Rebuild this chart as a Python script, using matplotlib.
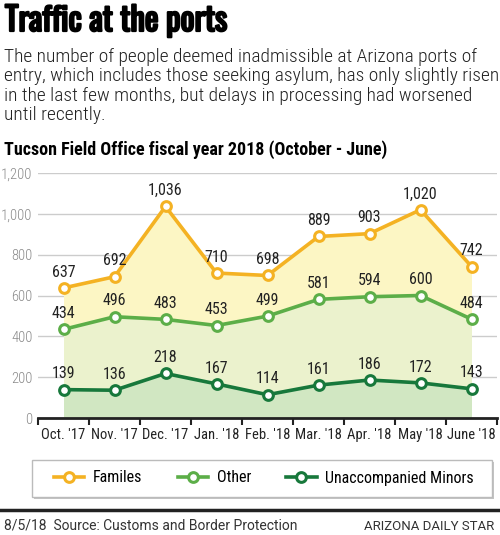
import matplotlib
matplotlib.use("Agg")
import matplotlib.pyplot as plt
import matplotlib.patheffects as pe
from matplotlib.lines import Line2D
from matplotlib.patches import Rectangle

# Data
months = ["Oct. '17", "Nov. '17", "Dec. '17", "Jan. '18", "Feb. '18",
          "Mar. '18", "Apr. '18", "May '18", "June '18"]
families = [637, 692, 1036, 710, 698, 889, 903, 1020, 742]
other = [434, 496, 483, 453, 499, 581, 594, 600, 484]
minors = [139, 136, 218, 167, 114, 161, 186, 172, 143]
series_names = ["Familes", "Other", "Unaccompanied Minors"]
y_ticks = [0, 200, 400, 600, 800, 1000, 1200]

line_colors = ["#f4b223", "#5cae48", "#17783b"]
fill_colors = ["#fcf6c4", "#ebf2cd", "#d1e7c2"]

narrow = ["Roboto Condensed", "DejaVu Sans"]
title_font = ["Oswald", "Fira Sans Extra Condensed", "DejaVu Sans"]
W, H = 500, 535

fig = plt.figure(figsize=(W / 100, H / 100), dpi=100)


def fx(px):
    return px / W


def fy(py):
    return 1 - py / H


# Header text (Oswald only ships one weight here, so thicken it with a stroke)
fig.text(fx(5), fy(31), "Traffic at the ports", family=title_font, fontweight="bold",
         fontsize=23.5, va="baseline", ha="left", color="black",
         path_effects=[pe.withStroke(linewidth=1.6, foreground="black")])
intro = ("The number of people deemed inadmissible at Arizona ports of\n"
         "entry, which includes those seeking asylum, has only slightly risen\n"
         "in the last few months, but delays in processing had worsened\n"
         "until recently.")
fig.text(fx(4), fy(48), intro, family=narrow, fontweight="light", fontsize=14,
         va="top", ha="left", linespacing=1.1, color="#222222")
fig.text(fx(4), fy(155), "Tucson Field Office fiscal year 2018 (October - June)",
         family=narrow, fontweight="bold", fontsize=13, va="baseline", ha="left")

# Chart area
ax = fig.add_axes([fx(38), fy(418), fx(497) - fx(38), (418 - 173) / H])
x = list(range(len(months)))
all_series = [families, other, minors]

for vals, fc in zip(all_series, fill_colors):
    ax.fill_between(x, 0, vals, color=fc, lw=0, zorder=1)

for vals, lc in zip(all_series, line_colors):
    ax.plot(x, vals, color=lc, lw=2.6, marker="o", markersize=7,
            markerfacecolor="white", markeredgecolor=lc, markeredgewidth=2.2,
            zorder=4, solid_capstyle="round")
    for xi, v in zip(x, vals):
        ax.annotate(f"{v:,}", (xi, v), xytext=(0, 6), textcoords="offset points",
                    ha="center", va="bottom", fontsize=11.5, family=narrow,
                    color="#222222", zorder=5)

ax.set_xlim(-0.5, len(months) - 0.5)
ax.set_ylim(0, 1200)
ax.set_yticks(y_ticks)
ax.set_yticklabels([f"{t:,}" for t in y_ticks], family=narrow, fontweight="light",
                   fontsize=10.5, color="#8a8a8a")
ax.tick_params(axis="y", length=0, pad=4)
ax.yaxis.grid(True, color="#cccccc", lw=1)
ax.set_axisbelow(True)

ax.set_xticks(x)
ax.set_xticklabels(months, family=narrow, fontsize=10.5, color="#222222")
ax.set_xticks([i - 0.5 for i in range(len(months) + 1)], minor=True)
ax.tick_params(axis="x", which="major", length=0, pad=7)
ax.tick_params(axis="x", which="minor", length=5, width=1.5, color="#222222",
               direction="out")

for side in ["top", "right", "left"]:
    ax.spines[side].set_visible(False)
ax.spines["bottom"].set_linewidth(2)
ax.spines["bottom"].set_color("#222222")
ax.spines["bottom"].set_zorder(6)

# Legend box with shadow
shadow = Rectangle((fx(34), fy(499)), fx(460), 37 / H, transform=fig.transFigure,
                   facecolor="#c4c4c4", edgecolor="none", zorder=0)
box = Rectangle((fx(32), fy(497)), fx(460), 37 / H, transform=fig.transFigure,
                facecolor="white", edgecolor="#bbbbbb", lw=1, zorder=1)
fig.add_artist(shadow)
fig.add_artist(box)

handles = [Line2D([], [], color=lc, lw=2.6, marker="o", markersize=7,
                  markerfacecolor="white", markeredgecolor=lc, markeredgewidth=2.2)
           for lc in line_colors]
leg = fig.legend(handles, series_names, loc="center", ncol=3, frameon=False,
                 bbox_to_anchor=(fx(264), fy(478)), handlelength=1.9,
                 columnspacing=2.2, handletextpad=0.55,
                 prop={"family": narrow, "size": 11.5})
leg.set_zorder(2)

# Footer
fig.add_artist(Line2D([0, 1], [fy(510), fy(510)], transform=fig.transFigure,
                      color="#222222", lw=2.5))
fig.text(fx(4), fy(530), "8/5/18  Source: Customs and Border Protection",
         fontsize=10, family=["Roboto", "DejaVu Sans"], color="#333333",
         va="baseline", ha="left")
fig.text(fx(494), fy(530), "ARIZONA DAILY STAR", fontsize=9.5,
         family=["Roboto", "DejaVu Sans"], color="#333333",
         va="baseline", ha="right")

fig.savefig("out.png", dpi=100)
